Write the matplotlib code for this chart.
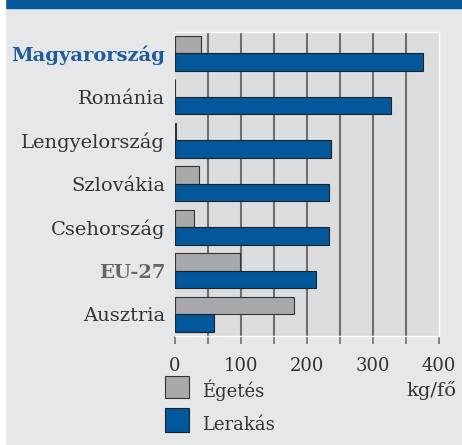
import matplotlib.pyplot as plt
import matplotlib.patches as mpatches

# adatok (kg/fő)
orszagok = ["Magyarország", "Románia", "Lengyelország", "Szlovákia",
            "Csehország", "EU-27", "Ausztria"]
egetes = [39, 0, 1, 36, 29, 98, 181]
lerakas = [376, 327, 236, 234, 234, 214, 59]
tick_ertekek = [0, 100, 200, 300, 400]

kek = "#03579b"
szurke = "#a7a9ac"
hatter = "#e6e7e8"
plot_hatter = "#dcdddf"
szoveg = "#333333"

plt.rcParams['font.family'] = ['DejaVu Serif']

W, H = 462, 445
fig = plt.figure(figsize=(W / 100, H / 100), dpi=100, facecolor=hatter)

# keret: felső kék sáv, bal fehér csík
fig.patches.append(mpatches.Rectangle((0, 1 - 7.5 / H), 1, 7.5 / H, transform=fig.transFigure,
                                      color=kek, zorder=0))
fig.patches.append(mpatches.Rectangle((0, 0), 5 / W, 1, transform=fig.transFigure,
                                      color="white", zorder=1))

ax = fig.add_axes([175 / W, 1 - 336 / H, (439 - 175) / W, (336 - 31.5) / H])
ax.set_facecolor(plot_hatter)

y = list(range(len(orszagok)))
ax.barh([i - 0.2 for i in y], egetes, height=0.4, color=szurke, edgecolor="#333333",
        linewidth=0.8, zorder=3)
ax.barh([i + 0.2 for i in y], lerakas, height=0.4, color=kek, edgecolor="#222222",
        linewidth=0.8, zorder=3)

ax.set_xlim(0, 400)
ax.set_ylim(len(orszagok) - 0.5, -0.5)

for g in range(50, 400, 50):
    ax.axvline(g, color="#6d6e71", lw=1.5, zorder=1)

for s in ["top", "right", "bottom"]:
    ax.spines[s].set_color("white")
    ax.spines[s].set_linewidth(1)
ax.spines["left"].set_visible(False)

ax.set_xticks(tick_ertekek)
ax.set_xticks(range(50, 400, 100), minor=True)
ax.tick_params(axis="x", which="both", length=6, width=1.2, color="#6d6e71",
               labelsize=13, labelcolor=szoveg, pad=9)
ax.set_yticks(y)
ax.set_yticklabels(orszagok, fontsize=14, color=szoveg)
ax.tick_params(axis="y", length=0, pad=7)
for lbl in ax.get_yticklabels():
    if lbl.get_text() == "Magyarország":
        lbl.set_color("#1f5c99")
        lbl.set_fontweight("bold")
    elif lbl.get_text() == "EU-27":
        lbl.set_color("#666666")
        lbl.set_fontweight("bold")

# jelmagyarázat
fig.patches.append(mpatches.Rectangle((165 / W, 1 - 398 / H), 24 / W, 22 / H,
                                      transform=fig.transFigure, facecolor=szurke,
                                      edgecolor="#333333", lw=0.8))
fig.patches.append(mpatches.Rectangle((165 / W, 1 - 432 / H), 24 / W, 24 / H,
                                      transform=fig.transFigure, facecolor=kek,
                                      edgecolor="#222222", lw=0.8))
fig.text(202 / W, 1 - 390 / H, "Égetés", fontsize=13, color=szoveg, va="center")
fig.text(202 / W, 1 - 425 / H, "Lerakás", fontsize=13, color=szoveg, va="center")
fig.text(456 / W, 1 - 390 / H, "kg/fő", fontsize=14, color=szoveg, va="center", ha="right")

fig.savefig("out.png", dpi=100, facecolor=hatter)
